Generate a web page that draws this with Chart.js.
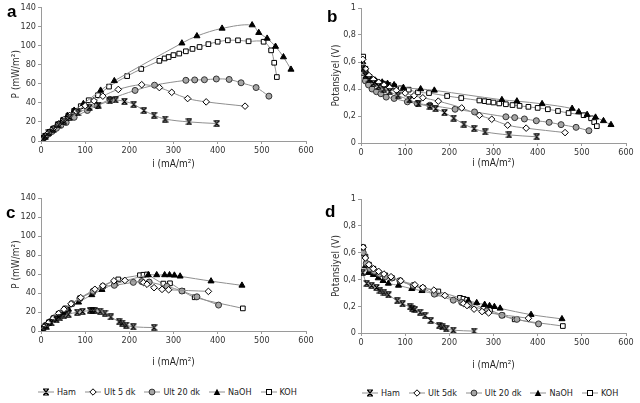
<!DOCTYPE html>
<html><head><meta charset="utf-8">
<script src="https://cdn.jsdelivr.net/npm/chart.js@4.4.1/dist/chart.umd.min.js"></script>
<style>
html,body{margin:0;padding:0;background:#fff;width:640px;height:403px;overflow:hidden}
.pane{position:absolute}
.lbl{position:absolute;font-weight:bold;font-size:17px;color:#000;font-family:"Liberation Sans",Arial,sans-serif;line-height:1}
.legend{position:absolute;display:flex;align-items:center;font-size:9px;color:#222;font-family:"Liberation Sans Narrow","DejaVu Sans Condensed","Liberation Sans",sans-serif;white-space:nowrap}
.item{display:flex;align-items:center;margin-right:9px}
.item svg{margin-right:3px}
</style></head><body>
<div class="pane" style="left:0;top:0"><canvas id="ca" width="320" height="170"></canvas></div>
<div class="pane" style="left:320px;top:0"><canvas id="cb" width="320" height="169"></canvas></div>
<div class="pane" style="left:0;top:190px"><canvas id="cc" width="320" height="178"></canvas></div>
<div class="pane" style="left:320px;top:190px"><canvas id="cd" width="320" height="181"></canvas></div>
<div class="lbl" style="left:7px;top:3px">a</div>
<div class="lbl" style="left:327px;top:8px">b</div>
<div class="lbl" style="left:6px;top:204px">c</div>
<div class="lbl" style="left:325px;top:203px">d</div>
<div class="legend" id="legL" style="left:38px;top:387px"></div>
<div class="legend" id="legR" style="left:362px;top:388px"></div>
<script>
// ---------- DATA ----------
const seriesNames = ['Ham', 'Ult 5 dk', 'Ult 20 dk', 'NaOH', 'KOH'];
const xTicks = [0, 100, 200, 300, 400, 500, 600];
const pTicks = [0, 20, 40, 60, 80, 100, 120, 140];
const vTickLabels = ['0', '0,2', '0,4', '0,6', '0,8', '1'];

// Top row (a: power, b: potential), current density i
const topHamI = [4, 10, 18, 28, 40, 52, 65, 84, 110, 130, 156, 169, 189, 210, 233, 256, 281, 335, 398];
const topHamP = [2.2, 5, 8.5, 12.3, 16.8, 20.8, 24.7, 29.4, 35.2, 37.7, 42.1, 43, 41.5, 38.5, 32, 27, 23, 20, 18.3];
const topHamV = [0.55, 0.5, 0.47, 0.44, 0.42, 0.40, 0.38, 0.35, 0.32, 0.29, 0.27, 0.255, 0.225, 0.185, 0.14, 0.107, 0.082, 0.06, 0.046];

const topU5I = [4, 10, 18, 28, 40, 52, 65, 80, 100, 120, 140, 175, 228, 268, 296, 332, 374, 462];
const topU5P = [2.5, 5.5, 9, 13.2, 18, 22.4, 26.7, 31.2, 37, 42, 47, 54, 59, 56, 51, 44.5, 41, 36.5];
const topU5V = [0.62, 0.55, 0.5, 0.47, 0.45, 0.43, 0.41, 0.39, 0.37, 0.35, 0.335, 0.31, 0.26, 0.205, 0.176, 0.132, 0.11, 0.077];

const topU20I = [5, 10, 17, 25, 35, 45, 57, 75, 105, 127, 156, 213, 257, 328, 348, 370, 397, 426, 453, 487, 516];
const topU20P = [2.6, 4.6, 7.3, 10, 13.3, 16.4, 19.4, 24.8, 32, 37, 43.7, 53, 58.5, 63.6, 64, 64.2, 65, 64.5, 61, 56, 47];
const topU20V = [0.52, 0.46, 0.43, 0.40, 0.38, 0.365, 0.34, 0.33, 0.305, 0.293, 0.28, 0.25, 0.23, 0.194, 0.188, 0.178, 0.165, 0.153, 0.136, 0.116, 0.091];

const topNaI = [4, 10, 16, 24, 35, 48, 60, 75, 96, 135, 166, 319, 353, 410, 478, 493, 512, 531, 549, 566];
const topNaP = [2.4, 5.4, 7.8, 11.3, 16, 21.6, 26.4, 32, 39, 53, 63, 102.5, 110, 118, 121.5, 113.5, 107.5, 99, 88, 75];
const topNaV = [0.60, 0.54, 0.49, 0.47, 0.455, 0.45, 0.44, 0.43, 0.41, 0.40, 0.39, 0.32, 0.31, 0.29, 0.255, 0.23, 0.21, 0.19, 0.164, 0.135];

const topKI = [5, 10, 19, 28, 38, 50, 62, 75, 90, 108, 129, 154, 195, 227, 268, 280, 289, 300, 313, 328, 343, 359, 379, 400, 423, 446, 470, 504, 521, 528, 534];
const topKP = [3.2, 5.5, 9.3, 13, 17, 22, 26.7, 31.5, 36.5, 42.7, 48, 57, 68, 75.5, 84, 86.5, 88, 90, 91.6, 94, 96.5, 98.5, 101.5, 104, 105.5, 105.5, 104.5, 104, 95, 82, 67];
const topKV = [0.64, 0.55, 0.49, 0.47, 0.45, 0.44, 0.43, 0.42, 0.405, 0.395, 0.375, 0.37, 0.348, 0.333, 0.315, 0.31, 0.305, 0.30, 0.293, 0.287, 0.281, 0.275, 0.268, 0.26, 0.25, 0.237, 0.222, 0.206, 0.183, 0.155, 0.125];

// Bottom row (c: power, d: potential)
const botHamI = [4, 13, 24, 35, 43, 52, 62, 82, 94, 111, 116, 122, 134, 145, 158, 177, 184, 193, 209, 256];
const botHamP = [1.8, 4.8, 8.5, 11.9, 13.8, 15.9, 17.7, 19.7, 20.5, 21.6, 21.6, 21.5, 20.8, 18.9, 14.8, 9.7, 8.3, 6.2, 4.4, 3.6];
const botHamV = [0.45, 0.37, 0.355, 0.34, 0.32, 0.305, 0.285, 0.24, 0.218, 0.195, 0.186, 0.176, 0.155, 0.13, 0.094, 0.055, 0.045, 0.032, 0.021, 0.014];

const botU5I = [5, 10, 18, 28, 40, 52, 68, 90, 122, 140, 165, 190, 232, 240, 256, 274, 289, 379];
const botU5P = [3.2, 5.6, 9.2, 13.4, 18.4, 22.9, 28.6, 35.1, 43.9, 47.6, 52.8, 53.2, 51, 49.2, 45.6, 43.8, 43.4, 41.7];
const botU5V = [0.64, 0.56, 0.51, 0.48, 0.46, 0.44, 0.42, 0.39, 0.36, 0.34, 0.32, 0.28, 0.22, 0.205, 0.178, 0.16, 0.15, 0.11];

const botU20I = [5, 12, 20, 30, 42, 55, 70, 88, 118, 140, 166, 209, 228, 245, 285, 319, 353, 402];
const botU20P = [3, 6.2, 9.6, 13.8, 18.5, 23.1, 28.7, 34.3, 41.9, 46.9, 48.1, 51.2, 52, 51.5, 47, 42.1, 36, 27.3];
const botU20V = [0.6, 0.52, 0.48, 0.46, 0.44, 0.42, 0.41, 0.39, 0.355, 0.335, 0.29, 0.245, 0.228, 0.21, 0.165, 0.132, 0.102, 0.068];

const botNaI = [4, 10, 17, 28, 39, 50, 62, 85, 115, 138, 168, 243, 262, 280, 291, 302, 315, 385, 455];
const botNaP = [2.4, 5, 7.7, 12.2, 16, 19.5, 23, 30.2, 38, 43.5, 49.6, 59, 59, 59, 59, 58.6, 57.6, 52.5, 48];
const botNaV = [0.59, 0.5, 0.45, 0.435, 0.41, 0.39, 0.37, 0.355, 0.33, 0.315, 0.29, 0.24, 0.225, 0.212, 0.203, 0.196, 0.184, 0.137, 0.105];

const botKI = [5, 10, 18, 28, 40, 55, 70, 88, 118, 140, 175, 224, 232, 240, 277, 292, 320, 348, 457];
const botKP = [3.2, 5.7, 9.2, 13.4, 18, 23.7, 28.7, 34.3, 41.3, 46.9, 54.3, 58.7, 59.2, 59.5, 49.9, 50.2, 42.2, 35.5, 23.8];
const botKV = [0.64, 0.57, 0.51, 0.48, 0.45, 0.43, 0.41, 0.39, 0.35, 0.335, 0.31, 0.262, 0.255, 0.248, 0.18, 0.172, 0.132, 0.102, 0.052];

// ---------- STYLES ----------
function hourglass() {
  const c = document.createElement('canvas'); c.width = 7; c.height = 7;
  const g = c.getContext('2d'); g.strokeStyle = '#000'; g.lineWidth = 1.2;
  g.beginPath();
  g.moveTo(0.5, 0.8); g.lineTo(6.5, 0.8); g.moveTo(0.5, 6.2); g.lineTo(6.5, 6.2);
  g.moveTo(1, 0.8); g.lineTo(6, 6.2); g.moveTo(6, 0.8); g.lineTo(1, 6.2);
  g.stroke(); return c;
}
const hg = hourglass();
const markerStyles = [
  { pointStyle: hg, pointRadius: 3.5, pointBackgroundColor: '#000', pointBorderColor: '#000', pointBorderWidth: 1 },
  { pointStyle: 'rectRot', pointRadius: 3.3, pointBackgroundColor: '#fff', pointBorderColor: '#000', pointBorderWidth: 1 },
  { pointStyle: 'circle', pointRadius: 3, pointBackgroundColor: '#a6a6a6', pointBorderColor: '#333', pointBorderWidth: 1 },
  { pointStyle: 'triangle', pointRadius: 3.5, pointBackgroundColor: '#000', pointBorderColor: '#000', pointBorderWidth: 1 },
  { pointStyle: 'rect', pointRadius: 3.3, pointBackgroundColor: '#fff', pointBorderColor: '#000', pointBorderWidth: 1 }
];
const tickFont = { family: '"DejaVu Sans Condensed","Liberation Sans Narrow","Liberation Sans",sans-serif', size: 9 };
const titleFont = { family: '"DejaVu Sans Condensed","Liberation Sans Narrow","Liberation Sans",sans-serif', size: 10 };

function pts(xs, ys) { return xs.map((x, k) => ({ x: x, y: ys[k] })); }

function makeChart(id, seriesXY, yKind, pad, xAxisH, yTitle) {
  const datasets = seriesXY.map((s, k) => Object.assign({
    label: seriesNames[k], data: s, borderColor: '#8f8f8f', borderWidth: 1,
    tension: 0.35, fill: false, pointHoverRadius: 4, showLine: true
  }, markerStyles[k]));
  const yIsP = yKind === 'P';
  new Chart(document.getElementById(id), {
    type: 'scatter',
    data: { datasets: datasets },
    options: {
      responsive: false, animation: false, events: [],
      layout: { padding: pad },
      plugins: { legend: { display: false }, tooltip: { enabled: false } },
      scales: {
        x: {
          type: 'linear', min: 0, max: 600,
          afterBuildTicks: s => { s.ticks = xTicks.map(v => ({ value: v })); },
          afterFit: s => { s.height = xAxisH; },
          ticks: { font: tickFont, color: '#333', padding: 1, maxRotation: 0 },
          grid: { display: true, drawOnChartArea: false, drawTicks: true, tickLength: 3, color: '#9a9a9a' },
          border: { display: true, color: '#9a9a9a' },
          title: { display: true, text: 'i (mA/m²)', font: titleFont, color: '#222', padding: { top: 0, bottom: 0 } }
        },
        y: {
          type: 'linear', min: 0, max: yIsP ? 140 : 1,
          afterBuildTicks: s => {
            s.ticks = yIsP ? pTicks.map(v => ({ value: v })) : vTickLabels.map(t => ({ value: parseFloat(t.replace(',', '.')) }));
          },
          afterFit: s => { s.width = 41; },
          ticks: {
            font: tickFont, color: '#333', padding: 2,
            callback: (v, k) => yIsP ? String(pTicks[k]) : vTickLabels[k]
          },
          grid: { display: true, drawOnChartArea: false, drawTicks: true, tickLength: 3, color: '#9a9a9a' },
          border: { display: true, color: '#9a9a9a' },
          title: { display: true, text: yTitle, font: titleFont, color: '#333', padding: { top: 10, bottom: 0 } }
        }
      }
    }
  });
}

makeChart('ca', [pts(topHamI, topHamP), pts(topU5I, topU5P), pts(topU20I, topU20P), pts(topNaI, topNaP), pts(topKI, topKP)],
  'P', { top: 7, right: 14, left: 0, bottom: 0 }, 29, 'P (mW/m²)');
makeChart('cb', [pts(topHamI, topHamV), pts(topU5I, topU5V), pts(topU20I, topU20V), pts(topNaI, topNaV), pts(topKI, topKV)],
  'V', { top: 8, right: 14, left: 0, bottom: 0 }, 26, 'Potansiyel (V)');
makeChart('cc', [pts(botHamI, botHamP), pts(botU5I, botU5P), pts(botU20I, botU20P), pts(botNaI, botNaP), pts(botKI, botKP)],
  'P', { top: 8, right: 14, left: 0, bottom: 0 }, 37, 'P (mW/m²)');
makeChart('cd', [pts(botHamI, botHamV), pts(botU5I, botU5V), pts(botU20I, botU20V), pts(botNaI, botNaV), pts(botKI, botKV)],
  'V', { top: 9, right: 14, left: 0, bottom: 0 }, 38, 'Potansiyel (V)');

// ---------- HTML legends ----------
const legendSvgs = [
  '<line x1="0" y1="5" x2="16" y2="5" stroke="#8f8f8f"/><path d="M5 2H11M5 8H11M5.5 2L10.5 8M10.5 2L5.5 8" stroke="#000" stroke-width="1.2" fill="none"/>',
  '<line x1="0" y1="5" x2="16" y2="5" stroke="#8f8f8f"/><path d="M8 1.8L11.2 5L8 8.2L4.8 5Z" fill="#fff" stroke="#000"/>',
  '<line x1="0" y1="5" x2="16" y2="5" stroke="#8f8f8f"/><circle cx="8" cy="5" r="2.9" fill="#a6a6a6" stroke="#333"/>',
  '<line x1="0" y1="5" x2="16" y2="5" stroke="#8f8f8f"/><path d="M8 1.8L11.3 8H4.7Z" fill="#000"/>',
  '<line x1="0" y1="5" x2="16" y2="5" stroke="#8f8f8f"/><rect x="5.5" y="2.5" width="5" height="5" fill="#fff" stroke="#000"/>'
];
function buildLegend(id, names) {
  const el = document.getElementById(id);
  el.innerHTML = names.map((n, k) =>
    '<span class="item"><svg width="16" height="10" viewBox="0 0 16 10">' + legendSvgs[k] + '</svg><span>' + n + '</span></span>').join('');
}
buildLegend('legL', seriesNames);
buildLegend('legR', ['Ham', 'Ult 5dk', 'Ult 20 dk', 'NaOH', 'KOH']);
</script>
</body></html>
